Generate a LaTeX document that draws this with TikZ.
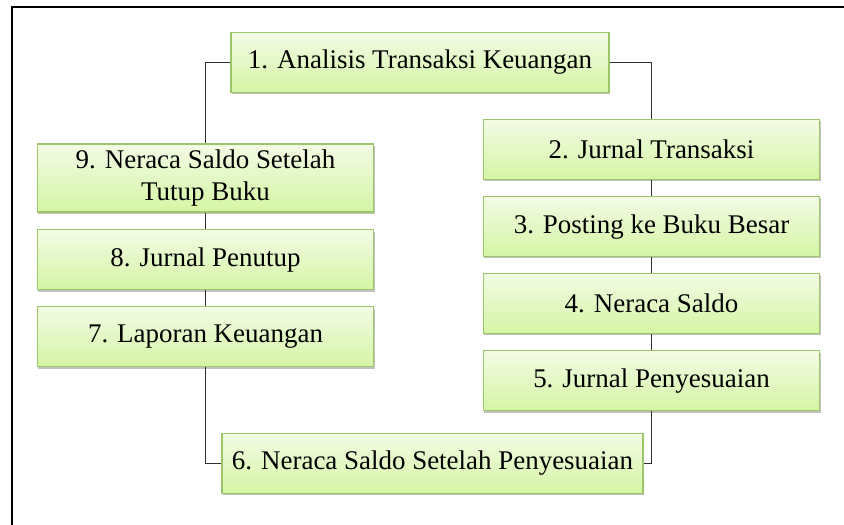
\documentclass[tikz,border=0pt]{standalone}
\usepackage{fontspec}
\setmainfont{Liberation Serif}
\usetikzlibrary{positioning,shadows}
\definecolor{boxtop}{HTML}{F3FBE5}
\definecolor{boxbot}{HTML}{D4F5A4}
\definecolor{boxline}{HTML}{9DC56A}
\definecolor{linkgray}{HTML}{2E2E2E}
\tikzset{
  stepbox/.style={draw=boxline, line width=0.9pt, top color=boxtop, bottom color=boxbot,
    minimum width=10.1cm, minimum height=1.8cm, align=center, inner sep=2pt,
    font=\fontsize{23}{27.5}\selectfont,
    drop shadow={shadow xshift=1pt, shadow yshift=-1.6pt, opacity=.4, fill=black!60}},
  link/.style={draw=linkgray, line width=1pt}
}
\begin{document}
\begin{tikzpicture}[x=0.03cm,y=-0.03cm]
    \useasboundingbox (0,0) rectangle (844,524);
    % frame
    \draw[line width=1.7pt] (12,530) -- (12,7) -- (850,7);
    % cycle
    \node[stepbox, minimum width=11.34cm] (n1) at (420,62.5) {1. Analisis Transaksi Keuangan};
    \node[stepbox] (n2) at (651.5,149.5) {2. Jurnal Transaksi};
    \node[stepbox, below=0.48cm of n2] (n3) {3. Posting ke Buku Besar};
    \node[stepbox, below=0.48cm of n3] (n4) {4. Neraca Saldo};
    \node[stepbox, below=0.48cm of n4] (n5) {5. Jurnal Penyesuaian};
    \node[stepbox, minimum width=12.63cm] (n6) at (432.5,463.5) {6. Neraca Saldo Setelah Penyesuaian};
    \node[stepbox, minimum height=2.04cm] (n9) at (205.5,178) {9. Neraca Saldo Setelah\\Tutup Buku};
    \node[stepbox, below=0.5cm of n9] (n8) {8. Jurnal Penutup};
    \node[stepbox, below=0.48cm of n8] (n7) {7. Laporan Keuangan};
    % connectors
    \draw[link] (n1.east) -| (n2.north);
    \draw[link] (n2.south) -- (n3.north);
    \draw[link] (n3.south) -- (n4.north);
    \draw[link] (n4.south) -- (n5.north);
    \draw[link] (n5.south) |- (n6.east);
    \draw[link] (n7.south) |- (n6.west);
    \draw[link] (n8.south) -- (n7.north);
    \draw[link] (n9.south) -- (n8.north);
    \draw[link] (n1.west) -| (n9.north);
\end{tikzpicture}
\end{document}
